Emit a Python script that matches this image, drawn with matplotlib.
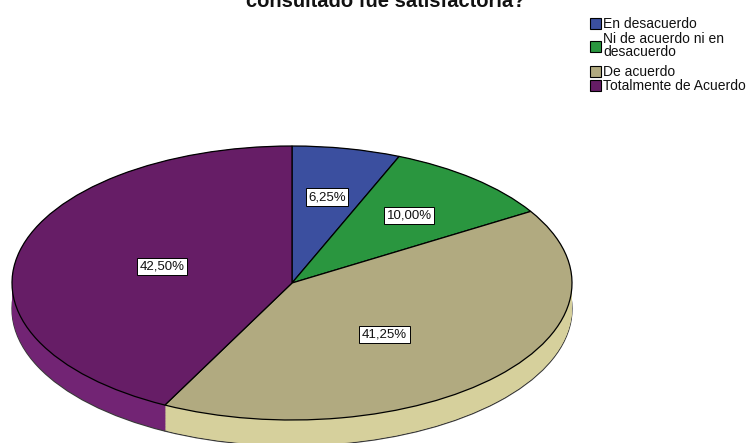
import numpy as np
import matplotlib.pyplot as plt
from matplotlib.patches import Rectangle

plt.rcParams['font.family'] = ['Liberation Sans', 'DejaVu Sans']

categorias = ["En desacuerdo", "Ni de acuerdo ni en\ndesacuerdo", "De acuerdo", "Totalmente de Acuerdo"]
porcentajes = [6.25, 10.00, 41.25, 42.50]
titulo = "consultado fue satisfactoria?"

color_tapa = ["#3b4f9f", "#2a963f", "#b1aa80", "#661d66"]
color_lado = ["#2f3f80", "#227a33", "#d6d09c", "#722474"]
radio_etiqueta = [0.64, 0.645, 0.5, 0.48]
giro_etiqueta = [0, 0, 6, 1]   # grados

W, H = 751, 443
fig = plt.figure(figsize=(W / 100, H / 100), dpi=100)
fig.patch.set_facecolor("white")

# capa en pixeles para titulo y leyenda
bg = fig.add_axes([0, 0, 1, 1])
bg.set_xlim(0, W)
bg.set_ylim(H, 0)
bg.axis("off")

bg.text(386, 7, titulo, ha="center", va="baseline", fontsize=14.5,
        fontweight="bold", color="#111111")

# leyenda manual
filas = [23, 46, 71, 85]
for c, etiqueta, y in zip(color_tapa, categorias, filas):
    bg.add_patch(Rectangle((590, y - 5.5), 11, 11, facecolor=c,
                           edgecolor="black", linewidth=0.8))
    if "\n" in etiqueta:
        bg.text(603, y - 0.5, etiqueta, ha="left", va="center",
                fontsize=10, linespacing=0.92, color="#111111")
    else:
        bg.text(603, y + 0.5, etiqueta, ha="left", va="center",
                fontsize=10, color="#111111")

# pastel 3D: ejes estirados para que el circulo sea una elipse
cx0, a = 12, 560
top = 146
b_px = 137
prof_px = 26
bottom = top + 2 * b_px + prof_px
prof = prof_px / b_px
ax = fig.add_axes([cx0 / W, (H - bottom) / H, a / W, (bottom - top) / H])

# pared lateral: pasteles apilados hacia abajo
capas = np.linspace(prof, 0, 36)
for i, d in enumerate(capas):
    ax.pie(porcentajes, colors=color_lado, startangle=90, counterclock=False,
           center=(0, -d), radius=1,
           wedgeprops=dict(linewidth=0.9 if i == 0 else 0,
                           edgecolor="#3a3a3a"))

# tapa superior
wedges, _ = ax.pie(porcentajes, colors=color_tapa, startangle=90, counterclock=False,
                   radius=1, wedgeprops=dict(linewidth=0.9, edgecolor="black"))

ax.set_aspect("auto")
ax.set_xlim(-1, 1)
ax.set_ylim(-1 - prof, 1)
ax.axis("off")

# etiquetas de porcentaje
acum = np.cumsum([0] + porcentajes)
for i, p in enumerate(porcentajes):
    phi = np.deg2rad((acum[i] + p / 2) / 100 * 360 + giro_etiqueta[i])
    r = radio_etiqueta[i]
    ax.text(r * np.sin(phi), r * np.cos(phi), f"{p:.2f}%".replace(".", ","),
            ha="center", va="center", fontsize=9.5, color="#111111",
            bbox=dict(boxstyle="square,pad=0.2", facecolor="white",
                      edgecolor="black", linewidth=0.7))

fig.savefig("out.png", dpi=100)
